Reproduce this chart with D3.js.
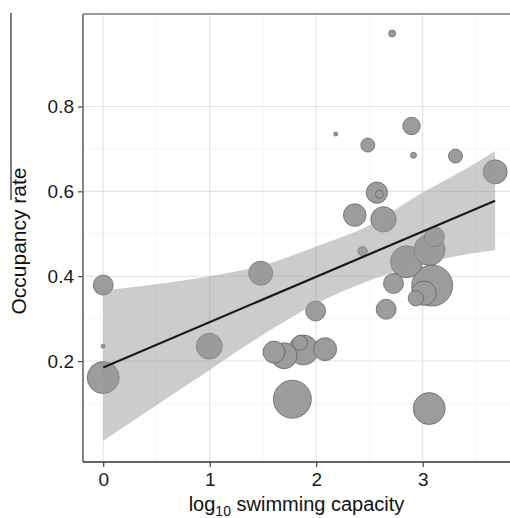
<!DOCTYPE html>
<html>
<head>
<meta charset="utf-8">
<script src="https://cdn.jsdelivr.net/npm/d3@7"></script>
<style>
  html, body { margin: 0; padding: 0; background: #fff; }
  svg { display: block; font-family: "Liberation Sans", Arial, sans-serif; }
</style>
</head>
<body>
<svg id="chart" width="510" height="518"></svg>
<script>
// ---- data ----
const xVals = [2.713, 2.184, 2.895, 2.485, 2.914, 3.308, 3.681, 2.570, 2.594, 2.362, 2.632,
               2.436, 3.110, 3.064, 2.848, 3.089, 2.726, 3.012, 2.936, 2.657, 1.995, 1.479,
               0.000, 0.000, 0.000, 0.996, 1.604, 1.698, 1.880, 1.849, 2.084, 1.776, 3.061];
const yVals = [0.972, 0.735, 0.754, 0.709, 0.685, 0.683, 0.646, 0.597, 0.593, 0.544, 0.534,
               0.459, 0.493, 0.462, 0.434, 0.378, 0.383, 0.360, 0.348, 0.322, 0.318, 0.407,
               0.379, 0.235, 0.161, 0.235, 0.221, 0.2125, 0.226, 0.243, 0.228, 0.110, 0.088];
const sizes = [12, 4, 76, 49, 9, 49, 144, 114, 16, 128, 161,
               22, 100, 240, 256, 420, 100, 151, 59, 100, 100, 144,
               100, 4, 256, 169, 121, 169, 225, 56, 132, 361, 256];

const fitX = [0, 3.68];
const fitY = [0.185, 0.578];
const bandX     = [0,     0.5,   1.0,   1.5,   2.0,   2.5,   3.0,   3.5,   3.68];
const bandUpper = [0.366, 0.381, 0.400, 0.426, 0.470, 0.520, 0.597, 0.667, 0.695];
const bandLower = [0.012, 0.096, 0.179, 0.262, 0.335, 0.390, 0.430, 0.455, 0.462];

const xTicks = [0, 1, 2, 3];
const yTicks = [0.2, 0.4, 0.6, 0.8];
const xMinor = [0.5, 1.5, 2.5, 3.5];
const yMinor = [0.1, 0.3, 0.5, 0.7, 0.9];

// ---- layout ----
const svg = d3.select("#chart");
const L = 83, R = 510, T = 14, B = 462;
const x = d3.scaleLinear().domain([-0.19, 3.82]).range([L, R]);
const y = d3.scaleLinear().domain([-0.038, 1.018]).range([B, T]);
const r = d3.scaleSqrt().domain([0, 400]).range([0, 20]);

// grid
const grid = svg.append("g");
grid.selectAll(".xm").data(xMinor).join("line")
  .attr("x1", d => x(d)).attr("x2", d => x(d)).attr("y1", T).attr("y2", B)
  .attr("stroke", "#f2f2f2").attr("stroke-width", 0.8);
grid.selectAll(".ym").data(yMinor).join("line")
  .attr("y1", d => y(d)).attr("y2", d => y(d)).attr("x1", L).attr("x2", R)
  .attr("stroke", "#f2f2f2").attr("stroke-width", 0.8);
grid.selectAll(".xM").data(xTicks).join("line")
  .attr("x1", d => x(d)).attr("x2", d => x(d)).attr("y1", T).attr("y2", B)
  .attr("stroke", "#e3e3e3").attr("stroke-width", 1.1);
grid.selectAll(".yM").data(yTicks).join("line")
  .attr("y1", d => y(d)).attr("y2", d => y(d)).attr("x1", L).attr("x2", R)
  .attr("stroke", "#e3e3e3").attr("stroke-width", 1.1);

// points
const pts = xVals.map((v, i) => ({x: v, y: yVals[i], s: sizes[i]}))
  .sort((a, b) => b.s - a.s);
svg.append("g").selectAll("circle").data(pts).join("circle")
  .attr("cx", d => x(d.x)).attr("cy", d => y(d.y)).attr("r", d => r(d.s))
  .attr("fill", "#9c9c9c").attr("stroke", "#5a5a5a").attr("stroke-width", 0.7);

// confidence band
const band = bandX.map((v, i) => ({x: v, lo: bandLower[i], hi: bandUpper[i]}));
svg.append("path").datum(band)
  .attr("d", d3.area().curve(d3.curveMonotoneX)
    .x(d => x(d.x)).y0(d => y(d.lo)).y1(d => y(d.hi)))
  .attr("fill", "#999").attr("fill-opacity", 0.5);

// fit line
svg.append("path").datum(fitX.map((v, i) => [v, fitY[i]]))
  .attr("d", d3.line().x(d => x(d[0])).y(d => y(d[1])))
  .attr("fill", "none").attr("stroke", "#1a1a1a").attr("stroke-width", 2.2);

// panel border (top / left) and axes
svg.append("line").attr("x1", L).attr("x2", R).attr("y1", T).attr("y2", T)
  .attr("stroke", "#777").attr("stroke-width", 1.6);

const yAxis = svg.append("g").attr("transform", `translate(${L},0)`)
  .call(d3.axisLeft(y).tickValues(yTicks).tickSize(5).tickPadding(4)
    .tickFormat(d3.format(".1f")));
yAxis.select(".domain").remove();
yAxis.append("line").attr("x1", 0).attr("x2", 0).attr("y1", T).attr("y2", B)
  .attr("stroke", "#666").attr("stroke-width", 1.6);

const xAxis = svg.append("g").attr("transform", `translate(0,${B})`)
  .call(d3.axisBottom(x).tickValues(xTicks).tickSize(5).tickPadding(6)
    .tickFormat(d3.format("d")));
xAxis.select(".domain").remove();
xAxis.append("line").attr("x1", L).attr("x2", R).attr("y1", 0).attr("y2", 0)
  .attr("stroke", "#333").attr("stroke-width", 1.6);

svg.selectAll(".tick line").attr("stroke", "#333").attr("stroke-width", 1.1);
svg.selectAll(".tick text").attr("fill", "#1a1a1a")
  .style("font-size", "19px").style("font-family", "'Liberation Sans', Arial, sans-serif");

// axis titles
const xt = svg.append("text").attr("x", (L + R) / 2 + 0).attr("y", 511)
  .attr("text-anchor", "middle").attr("fill", "#111").style("font-size", "20px");
xt.append("tspan").text("log");
xt.append("tspan").text("10").attr("dy", 5).style("font-size", "14px");
xt.append("tspan").text(" swimming capacity").attr("dy", -5);

svg.append("text").attr("transform", "translate(26,241) rotate(-90)")
  .attr("text-anchor", "middle").attr("fill", "#111").style("font-size", "21px")
  .text("Occupancy rate");

// stray vertical rule at far left
svg.append("line").attr("x1", 11).attr("x2", 11).attr("y1", 13).attr("y2", 200)
  .attr("stroke", "#222").attr("stroke-width", 1.2);
</script>
</body>
</html>
